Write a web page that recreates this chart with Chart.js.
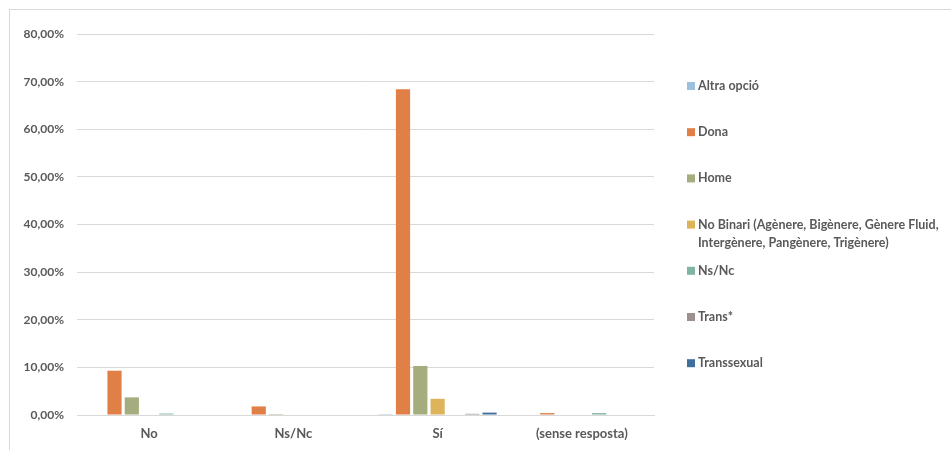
<!DOCTYPE html>
<html>
<head>
<meta charset="utf-8">
<script src="https://cdn.jsdelivr.net/npm/chart.js@4.4.0/dist/chart.umd.min.js"></script>
<style>
  html, body { margin: 0; padding: 0; background: #fff; }
  #wrap { position: relative; width: 951px; height: 450px; overflow: hidden; }
  #frame { position: absolute; left: 9px; top: 9px; width: 1000px; height: 500px; border-left: 1px solid #d9d9d9; border-top: 1px solid #d9d9d9; box-sizing: border-box; pointer-events: none; }
  canvas { position: absolute; left: 0; top: 0; }
</style>
</head>
<body>
<div id="wrap">
  <canvas id="c" width="951" height="450"></canvas>
  <div id="frame"></div>
</div>
<script>
const categories = ["No", "Ns/Nc", "Sí", "(sense resposta)"];
const seriesNames = [
  "Altra opció",
  "Dona",
  "Home",
  ["No Binari (Agènere, Bigènere, Gènere Fluid,", "Intergènere, Pangènere, Trigènere)"],
  "Ns/Nc",
  "Trans*",
  "Transsexual"
];
const altraOpcio  = [0,   0,   0.2,  0];
const dona        = [9.3, 1.8, 68.4, 0.4];
const home        = [3.7, 0.2, 10.3, 0];
const noBinari    = [0,   0,   3.4,  0];
const nsNc        = [0.3, 0,   0,    0.4];
const trans       = [0,   0,   0.25, 0];
const transsexual = [0,   0,   0.5,  0];
const yTicks = [0, 10, 20, 30, 40, 50, 60, 70, 80];

const seriesValues = [altraOpcio, dona, home, noBinari, nsNc, trans, transsexual];
const colors = ["#9DC0DF", "#E07F46", "#A5AD7E", "#DDB35B", "#7FB5A2", "#9E9090", "#3F6F9C"];

const FONT = "Lato, 'Open Sans', sans-serif";

const legendPlugin = {
  id: "sideLegend",
  afterDraw(chart) {
    const ctx = chart.ctx;
    ctx.save();
    ctx.font = "bold 12.5px " + FONT;
    ctx.fillStyle = "#595959";
    ctx.textBaseline = "middle";
    const x0 = 687, y0 = 86, step = 46.2, lh = 18.7;
    seriesNames.forEach((name, i) => {
      const y = y0 + i * step;
      ctx.fillStyle = colors[i];
      ctx.fillRect(x0, y - 4, 8, 8);
      ctx.fillStyle = "#595959";
      const lines = Array.isArray(name) ? name : [name];
      lines.forEach((t, j) => ctx.fillText(t, x0 + 11, y + j * lh));
    });
    ctx.restore();
  }
};

new Chart(document.getElementById("c"), {
  type: "bar",
  data: {
    labels: categories,
    datasets: seriesValues.map((vals, i) => ({
      label: Array.isArray(seriesNames[i]) ? seriesNames[i].join(" ") : seriesNames[i],
      data: vals,
      backgroundColor: colors[i],
      borderWidth: 0,
      categoryPercentage: 0.84,
      barPercentage: 0.82
    }))
  },
  options: {
    responsive: false,
    animation: false,
    devicePixelRatio: 1,
    layout: { padding: { left: 10, right: 297, top: 34, bottom: 5 } },
    plugins: {
      legend: { display: false },
      tooltip: { enabled: false }
    },
    scales: {
      x: {
        grid: { display: false, drawTicks: false },
        border: { display: true, color: "#d9d9d9", width: 1 },
        ticks: {
          padding: 11,
          color: "#595959",
          font: { family: FONT, size: 13, weight: "bold" }
        },
        afterFit(scale) { scale.height = 30; }
      },
      y: {
        min: 0,
        max: 80,
        afterBuildTicks(scale) { scale.ticks = yTicks.map(v => ({ value: v })); },
        grid: { color: "#d9d9d9", lineWidth: 1, drawTicks: false },
        border: { display: false },
        ticks: {
          padding: 13,
          color: "#595959",
          font: { family: FONT, size: 12, weight: "bold" },
          callback: v => v.toFixed(2).replace(".", ",") + "%"
        },
        afterFit(scale) { scale.width = 67; }
      }
    }
  },
  plugins: [legendPlugin]
});
</script>
</body>
</html>
